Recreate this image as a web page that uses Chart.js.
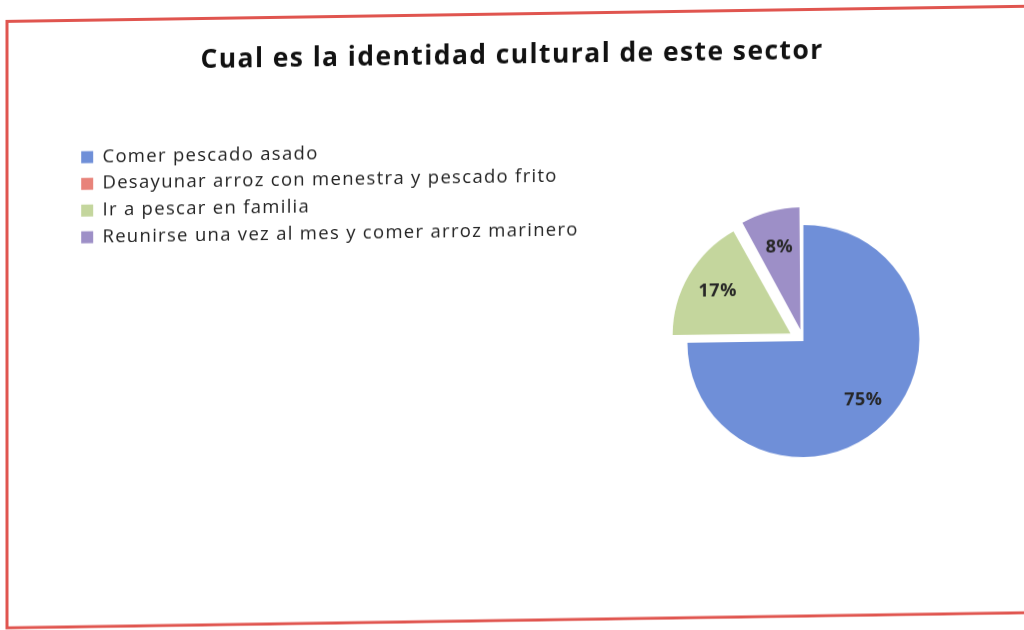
<!DOCTYPE html>
<html>
<head>
<meta charset="utf-8">
<script src="https://cdn.jsdelivr.net/npm/chart.js@4.4.0/dist/chart.umd.min.js"></script>
<style>
	html, body { margin: 0; padding: 0; background: #fff; overflow: hidden; width: 1024px; height: 630px; }
	/* the scanned page is a little slanted */
	#page { position: absolute; left: 0; top: 0; width: 1047px; height: 630px; transform: skewY(-0.85deg); transform-origin: 0 0; }
	#pieChart { position: absolute; left: 0; top: 0; }
	#chartTitle {
		position: absolute; left: 0; width: 1024px; top: 45px;
		text-align: center; font: bold 26.5px/32px 'Open Sans', sans-serif; letter-spacing: 1.4px; color: #111;
	}
</style>
</head>
<body>
<div id="page">
	<canvas id="pieChart" width="1047" height="630"></canvas>
	<div id="chartTitle"></div>
</div>
<script>
const chartTitle = 'Cual es la identidad cultural de este sector';
const categories = [
	'Comer pescado asado',
	'Desayunar arroz con menestra y pescado frito',
	'Ir a pescar en familia',
	'Reunirse una vez al mes y comer arroz marinero',
];
const percentages = [75, 0, 17, 8];

const sliceColors = ['#6f8fd8', '#e8837a', '#c4d69d', '#9d8fc7'];
// green and purple pieces are pulled out of the pie
const sliceOffsets = [0, 0, 60, 48];

document.getElementById('chartTitle').textContent = chartTitle;

// percent labels inside the slices, like excel does
const percentLabels = {
	id: 'percentLabels',
	afterDatasetsDraw(chart) {
		const ctx = chart.ctx;
		const meta = chart.getDatasetMeta(0);
		ctx.save();
		ctx.letterSpacing = '0.5px';
		ctx.font = "bold 18px 'Open Sans'";
		ctx.fillStyle = '#262626';
		ctx.textAlign = 'center';
		ctx.textBaseline = 'middle';
		meta.data.forEach((arc, i) => {
			if (!percentages[i]) return;
			const mid = (arc.startAngle + arc.endAngle) / 2;
			const shift = (arc.options.offset || 0) / 4;
			const r = arc.outerRadius * 0.73 + shift;
			ctx.fillText(percentages[i] + '%', arc.x + Math.cos(mid) * r, arc.y + Math.sin(mid) * r);
		});
		ctx.restore();
	},
};

// red frame round the chart
const pageFrame = {
	id: 'pageFrame',
	beforeLayout(chart) {
		// the scanned legend text is a bit wider than Open Sans
		chart.ctx.letterSpacing = '1.3px';
	},
	beforeDraw(chart) {
		const ctx = chart.ctx;
		ctx.letterSpacing = '1.3px';
		// legend box is narrower than its longest label, don't cut the text
		if (chart.legend) chart.legend.right = chart.chartArea.right;
		ctx.save();
		ctx.fillStyle = '#ffffff';
		ctx.fillRect(0, 0, chart.width, chart.height);
		ctx.strokeStyle = '#e0554f';
		ctx.lineWidth = 3;
		ctx.strokeRect(7, 21.5, 1100, 606.5);
		ctx.restore();
	},
};

const dataPie = {
	labels: categories,
	datasets: [
		{
			data: percentages,
			backgroundColor: sliceColors,
			borderWidth: 0,
			offset: sliceOffsets,
		},
	],
};

const config = {
	type: 'pie',
	data: dataPie,
	options: {
		responsive: false,
		animation: false,
		radius: 116,
		layout: {
			padding: { top: 141, left: 73, right: 0, bottom: 65 },
		},
		plugins: {
			title: { display: false },
			legend: {
				position: 'left',
				align: 'start',
				fullSize: false,
				labels: {
					boxWidth: 12,
					boxHeight: 12,
					padding: 8.2,
					color: '#222',
					font: { family: 'Open Sans', size: 18.5 },
				},
			},
			tooltip: { enabled: false },
		},
	},
	plugins: [pageFrame, percentLabels],
};

const ctx = document.getElementById('pieChart').getContext('2d');
const myChart = new Chart(ctx, config);
</script>
</body>
</html>
